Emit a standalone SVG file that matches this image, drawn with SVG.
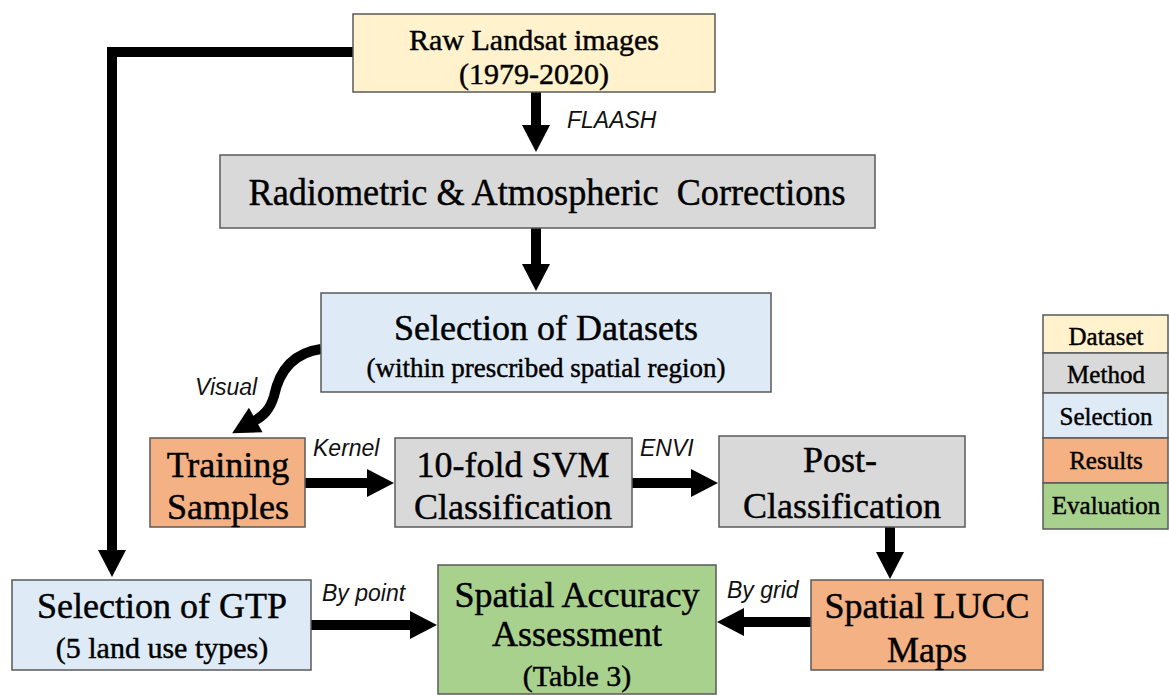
<svg xmlns="http://www.w3.org/2000/svg" width="1169" height="695" viewBox="0 0 1169 695">
<style>
.box{stroke:#5a5a5a;stroke-width:1.5}
.ds{fill:#fff2cc}.me{fill:#d9d9d9}.se{fill:#deebf7}.re{fill:#f4b183}.ev{fill:#a9d18e}
.t{font-family:"Liberation Serif","Times New Roman",Times,serif;fill:#000;stroke:#000;stroke-width:0.45;text-anchor:middle}
.big{font-size:36px}.mid{font-size:30px}.sm{font-size:27px}.lg{font-size:25px}
.lab{font-family:"Liberation Sans",Arial,sans-serif;font-style:italic;font-size:23px;fill:#111}
.c{fill:none;stroke:#000;stroke-width:10}
</style>
<defs>
<marker id="ah" markerUnits="userSpaceOnUse" markerWidth="28" markerHeight="30" refX="2" refY="14" orient="auto" overflow="visible">
<path d="M0,0 L27,14 L0,28 z" fill="#000"/>
</marker>
</defs>
<rect width="1169" height="695" fill="#fff"/>
<g id="connectors">
<path class="c" d="M353,52 H112 V552" marker-end="url(#ah)"/>
<path class="c" d="M536,92 V127" marker-end="url(#ah)"/>
<path class="c" d="M536,228 V266" marker-end="url(#ah)"/>
<path class="c" d="M321,349 C292,353 279,372 274,396 C270,410 263,416 254,421" marker-end="url(#ah)"/>
<path class="c" d="M305,483 H369" marker-end="url(#ah)"/>
<path class="c" d="M632,483 H693" marker-end="url(#ah)"/>
<path class="c" d="M890,527 V554" marker-end="url(#ah)"/>
<path class="c" d="M311,625 H412" marker-end="url(#ah)"/>
<path class="c" d="M811,622 H742" marker-end="url(#ah)"/>
</g>
<g id="raw"><rect class="box ds" x="353" y="14" width="362" height="78"/>
<text class="t mid" x="534" y="50">Raw Landsat images</text><text class="t mid" x="534" y="84">(1979-2020)</text></g>
<g id="radio"><rect class="box me" x="220" y="155" width="655" height="73"/>
<text class="t" style="font-size:38px" x="547" y="205" xml:space="preserve" textLength="597" lengthAdjust="spacingAndGlyphs">Radiometric &amp; Atmospheric  Corrections</text></g>
<g id="seldata"><rect class="box se" x="321" y="293" width="450" height="99"/>
<text class="t big" x="546" y="340">Selection of Datasets</text><text class="t sm" x="546" y="377">(within prescribed spatial region)</text></g>
<g id="training"><rect class="box re" x="150" y="438" width="155" height="89"/>
<text class="t big" x="228" y="477">Training</text><text class="t big" x="228" y="519">Samples</text></g>
<g id="svm"><rect class="box me" x="395" y="438" width="237" height="89"/>
<text class="t big" x="513" y="477">10-fold SVM</text><text class="t big" x="513" y="519">Classification</text></g>
<g id="post"><rect class="box me" x="719" y="436" width="246" height="91"/>
<text class="t big" x="840" y="472">Post-</text><text class="t big" x="842" y="518">Classification</text></g>
<g id="lucc"><rect class="box re" x="811" y="580" width="232" height="90"/>
<text class="t big" x="927" y="618">Spatial LUCC</text><text class="t big" x="927" y="662">Maps</text></g>
<g id="accuracy"><rect class="box ev" x="438" y="565" width="278" height="129"/>
<text class="t big" x="577" y="607">Spatial Accuracy</text><text class="t big" x="577" y="646">Assessment</text><text class="t mid" x="577" y="686">(Table 3)</text></g>
<g id="gtp"><rect class="box se" x="12" y="580" width="299" height="90"/>
<text class="t big" x="162" y="618">Selection of GTP</text><text class="t mid" x="162" y="658">(5 land use types)</text></g>
<g id="labels">
<text class="lab" x="567" y="128">FLAASH</text>
<text class="lab" x="195" y="395">Visual</text>
<text class="lab" x="313" y="456">Kernel</text>
<text class="lab" x="640" y="456">ENVI</text>
<text class="lab" x="322" y="601">By point</text>
<text class="lab" x="727" y="598">By grid</text>
</g>
<g id="legend">
<rect class="box ds" x="1043" y="315" width="125" height="38"/>
<rect class="box me" x="1043" y="353" width="125" height="40"/>
<rect class="box se" x="1043" y="393" width="125" height="45"/>
<rect class="box re" x="1043" y="438" width="125" height="45"/>
<rect class="box ev" x="1043" y="483" width="125" height="46"/>
<text class="t lg" x="1106" y="345">Dataset</text>
<text class="t lg" x="1106" y="383">Method</text>
<text class="t lg" x="1106" y="425">Selection</text>
<text class="t lg" x="1106" y="469">Results</text>
<text class="t lg" x="1106" y="514">Evaluation</text>
</g>
</svg>
